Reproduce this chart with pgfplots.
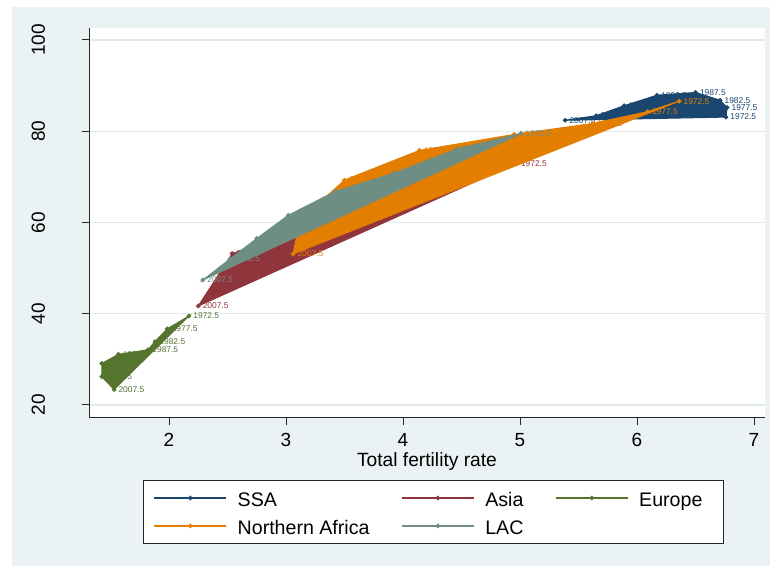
\documentclass[border=0pt]{standalone}
\usepackage{fontspec}
\setmainfont{Liberation Sans}
\usepackage{pgfplots}
\usepackage{pgfplotstable}
\pgfplotsset{compat=1.18}
\definecolor{ssa}{HTML}{1A476F}
\definecolor{asia}{HTML}{90353B}
\definecolor{europe}{HTML}{55752F}
\definecolor{nafr}{HTML}{E37E00}
\definecolor{lac}{HTML}{6E8E84}
\definecolor{bgc}{HTML}{EAF2F3}
\definecolor{gridc}{HTML}{E1EAED}

\pgfplotstableread{
x y lab
6.76 83.1 1972.5
6.77 85.2 1977.5
6.71 86.8 1982.5
6.50 88.5 1987.5
6.17 87.9 1992.5
5.89 85.6 1997.5
5.65 83.4 2002.5
5.385 82.4 2007.5
}\ssadata

\pgfplotstableread{
x y lab
4.97 73.0 1972.5
4.25 69.5 1977.5
3.78 63.5 1982.5
3.47 59.0 1987.5
2.98 57.0 1992.5
2.72 54.8 1997.5
2.54 53.2 2002.5
2.25 41.7 2007.5
}\asiadata

\pgfplotstableread{
x y lab
2.17 39.5 1972.5
1.985 36.7 1977.5
1.88 33.9 1982.5
1.82 32.1 1987.5
1.567 31.1 1992.5
1.425 29.1 1997.5
1.425 26.2 2002.5
1.53 23.4 2007.5
}\eurdata

\pgfplotstableread{
x y lab
6.36 86.6 1972.5
6.09 84.3 1977.5
5.62 81.7 1982.5
4.95 79.3 1987.5
4.14 75.8 1992.5
3.50 69.3 1997.5
3.12 60.5 2002.5
3.06 53.1 2007.5
}\nafrdata

\pgfplotstableread{
x y lab
5.01 79.5 1972.5
4.46 76.1 1977.5
3.92 70.8 1982.5
3.42 66.8 1987.5
3.02 61.6 1992.5
2.75 56.5 1997.5
2.52 52.0 2002.5
2.29 47.4 2007.5
}\lacdata

\pgfplotsset{
  region/.style={fill=#1, draw=#1, line width=0.5pt,
    mark=*, mark size=0.9pt, mark options={fill=#1, draw=#1},
    forget plot, nodes near coords, point meta=explicit symbolic,
    nodes near coords align=horizontal,
    every node near coord/.append style={anchor=west, inner sep=0pt, xshift=2pt,
      font=\fontsize{4.2}{5}\selectfont, text=#1}},
}

\begin{document}
\begin{tikzpicture}
\useasboundingbox (0,0) rectangle (385pt,283pt);
\fill[bgc] (6pt,0pt) rectangle (385pt,279.5pt);
\begin{axis}[
  at={(44.5pt,74pt)}, anchor=south west,
  scale only axis, width=338pt, height=195pt,
  xmin=1.316, xmax=7.094, ymin=17.15, ymax=102.63,
  clip=false, clip marker paths=true,
  axis x line=bottom, axis y line=left,
  axis line style={-, line width=0.5pt, black!85},
  xtick={2,3,4,5,6,7}, ytick={20,40,60,80,100},
  tick align=outside, major tick length=3.5pt,
  tick style={line width=0.5pt, black!85},
  ymajorgrids, grid style={gridc, line width=0.6pt},
  axis background/.style={fill=white},
  /pgf/number format/assume math mode=true,
  ticklabel style={font=\fontsize{9.5}{11}\selectfont},
  yticklabel style={xshift=-18.5pt, rotate=90, anchor=base, inner sep=0pt},
  xticklabel style={anchor=base, inner sep=0pt, yshift=-11pt},
  xlabel={Total fertility rate},
  xlabel style={at={(axis description cs:0.5,0)}, anchor=base, yshift=-24.5pt, font=\fontsize{9.6}{11}\selectfont},
  legend columns=3,
  legend cell align=left,
  legend style={at={(0.0799,-0.159)}, anchor=north west, draw=black!85, line width=0.5pt,
    fill=white, font=\fontsize{9.8}{11}\selectfont,
    inner xsep=5pt, inner ysep=4pt,
    nodes={text height=8.87pt, text depth=0.6pt, inner ysep=0pt, inner xsep=5.3pt},
    /tikz/row sep=4.5pt,
    /tikz/every even column/.append style={column sep=10.5pt}},
  legend image code/.code={\draw[mark repeat=2, mark phase=2, #1] plot coordinates {(0pt,0pt) (18pt,0pt) (36pt,0pt)};},
]
\addplot[region=ssa] table[meta=lab] {\ssadata} -- cycle;
\addplot[region=asia] table[meta=lab] {\asiadata} -- cycle;
\addplot[region=europe] table[meta=lab] {\eurdata} -- cycle;
\addplot[region=nafr] table[meta=lab] {\nafrdata} -- cycle;
\addplot[region=lac] table[meta=lab] {\lacdata} -- cycle;

\addlegendimage{ssa, line width=0.8pt, mark=*, mark size=0.7pt}
\addlegendentry{SSA}
\addlegendimage{asia, line width=0.8pt, mark=*, mark size=0.7pt}
\addlegendentry{Asia}
\addlegendimage{europe, line width=0.8pt, mark=*, mark size=0.7pt}
\addlegendentry{Europe}
\addlegendimage{nafr, line width=0.8pt, mark=*, mark size=0.7pt}
\addlegendentry{Northern Africa}
\addlegendimage{lac, line width=0.8pt, mark=*, mark size=0.7pt}
\addlegendentry{LAC}
\end{axis}
\end{tikzpicture}
\end{document}
